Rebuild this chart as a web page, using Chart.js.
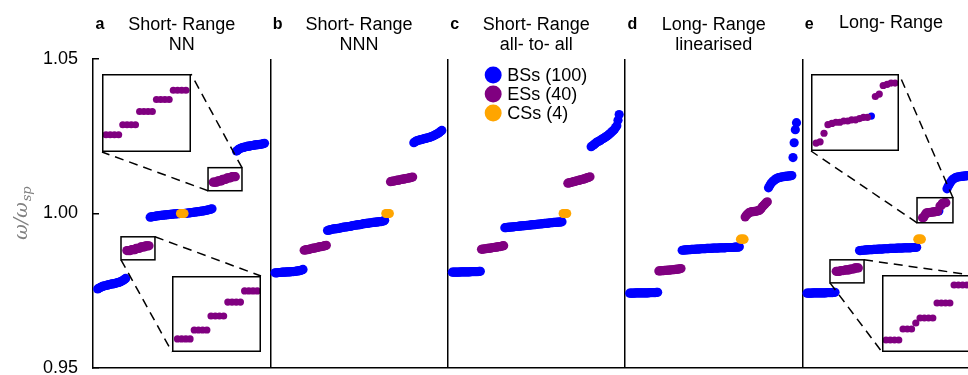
<!DOCTYPE html>
<html>
<head>
<meta charset="utf-8">
<script src="https://cdn.jsdelivr.net/npm/chart.js@4.4.1/dist/chart.umd.min.js"></script>
<style>
html,body{margin:0;padding:0;background:#fff;overflow:hidden;}
#wrap{position:relative;width:968px;height:375px;overflow:hidden;background:#fff;}
#main{position:absolute;left:0;top:0;}
.inset{position:absolute;background:#fff;}
</style>
</head>
<body>
<div id="wrap">
<canvas id="main" width="968" height="375"></canvas>
</div>
<script>
// ---------------- DATA ----------------
const categories = ['BSs (100)', 'ESs (40)', 'CSs (4)'];
const panelLetters = ['a', 'b', 'c', 'd', 'e'];
const panelTitles = [
  ['Short- Range', 'NN'],
  ['Short- Range', 'NNN'],
  ['Short- Range', 'all- to- all'],
  ['Long- Range', 'linearised'],
  ['Long- Range']
];
const yTicks = [0.95, 1.00, 1.05];
const yTitle = ['ω/ω', 'sp'];

// panel a : Short-Range NN
const aBS = [
  0.9756,0.9758,0.9760,0.9762,0.9764,0.9765,0.9766,0.9767,0.9768,0.9769,
  0.9770,0.9771,0.9772,0.9772,0.9773,0.9774,0.9775,0.9776,0.9777,0.9778,
  0.9780,0.9782,0.9784,0.9787,0.9790,
  0.99880,0.99888,0.99896,0.99903,0.99910,0.99916,0.99922,0.99927,0.99932,0.99937,
  0.99941,0.99945,0.99949,0.99953,0.99957,0.99961,0.99965,0.99969,0.99973,0.99977,
  0.99981,0.99985,0.99988,0.99991,0.99994,0.99997,
  1.00003,1.00008,1.00013,1.00018,1.00023,1.00028,1.00033,1.00038,1.00043,1.00048,
  1.00053,1.00058,1.00063,1.00069,1.00075,1.00081,1.00088,1.00095,1.00103,1.00111,
  1.00120,1.00130,1.00141,1.00153,
  1.0202,1.0205,1.0208,1.0210,1.0212,1.0213,1.0214,1.0215,1.0216,1.0217,
  1.0218,1.0218,1.0219,1.0220,1.0220,1.0221,1.0222,1.0222,1.0223,1.0223,
  1.0224,1.0224,1.0225,1.0226,1.0227
];
const aES = [
  0.98800,0.98800,0.98800,0.98800,0.98829,0.98829,0.98829,0.98829,0.98874,0.98874,
  0.98874,0.98874,0.98919,0.98919,0.98919,0.98919,0.98955,0.98955,0.98955,0.98955,
  1.01013,1.01013,1.01013,1.01013,1.01053,1.01053,1.01053,1.01053,1.01106,1.01106,
  1.01106,1.01106,1.01154,1.01154,1.01154,1.01154,1.01191,1.01191,1.01191,1.01191
];
const aCS = [1.0000, 1.0000, 1.0000, 1.0000];

// panel b : Short-Range NNN
const bBS = [
  0.9808,0.9808,0.9808,0.9809,0.9809,0.9809,0.9810,0.9810,0.9810,0.9810,
  0.9811,0.9811,0.9811,0.9811,0.9812,0.9812,0.9812,0.9813,0.9813,0.9814,
  0.9814,0.9815,0.9816,0.9817,0.9819,
  0.9945,0.9946,0.9947,0.9948,0.9949,0.9950,0.9950,0.9951,0.9951,0.9952,
  0.9952,0.9953,0.9954,0.9955,0.9956,0.9956,0.9957,0.9957,0.9958,0.9958,
  0.9959,0.9960,0.9961,0.9962,0.9962,0.9963,0.9963,0.9964,0.9964,0.9965,
  0.9966,0.9967,0.9967,0.9968,0.9968,0.9969,0.9969,0.9970,0.9970,0.9971,
  0.9971,0.9972,0.9972,0.9973,0.9973,0.9974,0.9974,0.9975,0.9976,0.9978,
  1.0229,1.0232,1.0234,1.0236,1.0237,1.0238,1.0239,1.0240,1.0241,1.0242,
  1.0243,1.0244,1.0245,1.0246,1.0247,1.0249,1.0250,1.0252,1.0254,1.0256,
  1.0258,1.0260,1.0263,1.0266,1.0269
];
const bES = [
  0.9881,0.9882,0.9883,0.9883,0.9884,0.9885,0.9886,0.9887,0.9888,0.9888,
  0.9889,0.9890,0.9891,0.9892,0.9893,0.9893,0.9894,0.9895,0.9896,0.9897,
  1.0103,1.0104,1.0105,1.0105,1.0106,1.0107,1.0108,1.0108,1.0109,1.0110,
  1.0111,1.0111,1.0112,1.0113,1.0114,1.0114,1.0115,1.0116,1.0117,1.0118
];
const bCS = [1.0000, 1.0000, 1.0000, 1.0000];

// panel c : Short-Range all-to-all
const cBS = [
  0.9810,0.9810,0.9810,0.9810,0.9810,0.9810,0.9810,0.9811,0.9811,0.9811,
  0.9811,0.9811,0.9811,0.9811,0.9811,0.9811,0.9812,0.9812,0.9812,0.9812,
  0.9812,0.9812,0.9812,0.9813,0.9813,
  0.9954,0.9954,0.9955,0.9955,0.9956,0.9956,0.9956,0.9957,0.9957,0.9958,
  0.9958,0.9958,0.9959,0.9959,0.9960,0.9960,0.9960,0.9961,0.9961,0.9962,
  0.9962,0.9962,0.9963,0.9963,0.9964,0.9964,0.9964,0.9965,0.9965,0.9966,
  0.9966,0.9966,0.9967,0.9967,0.9968,0.9968,0.9968,0.9969,0.9969,0.9970,
  0.9970,0.9970,0.9971,0.9971,0.9971,0.9972,0.9972,0.9972,0.9973,0.9973,
  1.0216,1.0219,1.0222,1.0225,1.0228,1.0231,1.0233,1.0235,1.0237,1.0240,
  1.0242,1.0244,1.0247,1.0249,1.0252,1.0255,1.0258,1.0261,1.0265,1.0269,
  1.0273,1.0278,1.0284,1.0302,1.0320
];
const cES = [
  0.9884,0.9885,0.9885,0.9886,0.9886,0.9887,0.9887,0.9888,0.9888,0.9889,
  0.9890,0.9890,0.9891,0.9891,0.9892,0.9893,0.9893,0.9894,0.9895,0.9896,
  1.0098,1.0099,1.0100,1.0101,1.0102,1.0103,1.0104,1.0105,1.0106,1.0107,
  1.0108,1.0109,1.0110,1.0111,1.0112,1.0113,1.0115,1.0116,1.0117,1.0119
];
const cCS = [1.0000, 1.0000, 1.0000, 1.0000];

// panel d : Long-Range linearised
const dBS = [
  0.9742,0.9742,0.9742,0.9742,0.9742,0.9743,0.9743,0.9743,0.9743,0.9743,
  0.9743,0.9743,0.9743,0.9743,0.9743,0.9743,0.9743,0.9744,0.9744,0.9744,
  0.9744,0.9744,0.9744,0.9745,0.9745,
  0.9881,0.9881,0.9882,0.9882,0.9882,0.9883,0.9883,0.9883,0.9884,0.9884,
  0.9884,0.9884,0.9885,0.9885,0.9885,0.9885,0.9886,0.9886,0.9886,0.9886,
  0.9886,0.9887,0.9887,0.9887,0.9887,0.9887,0.9888,0.9888,0.9888,0.9888,
  0.9888,0.9888,0.9889,0.9889,0.9889,0.9889,0.9889,0.9889,0.9890,0.9890,
  0.9890,0.9890,0.9890,0.9890,0.9890,0.9891,0.9891,0.9891,0.9891,0.9892,
  1.0083,1.0090,1.0096,1.0101,1.0105,1.0108,1.0111,1.0113,1.0115,1.0116,
  1.0117,1.0118,1.0119,1.0119,1.0120,1.0120,1.0121,1.0121,1.0122,1.0122,
  1.0123,1.0181,1.0229,1.0271,1.0294
];
const dES = [
  0.9814,0.9814,0.9815,0.9815,0.9815,0.9816,0.9816,0.9816,0.9817,0.9817,
  0.9817,0.9818,0.9818,0.9818,0.9819,0.9819,0.9820,0.9820,0.9821,0.9822,
  0.9989,0.9994,0.9998,1.0002,1.0004,1.0005,1.0006,1.0006,1.0007,1.0007,
  1.0008,1.0009,1.0010,1.0013,1.0018,1.0023,1.0027,1.0031,1.0035,1.0038
];
const dCS = [0.9917, 0.9917, 0.9917, 0.9917];

// panel e : Long-Range
const eBS = [
  0.9742,0.9742,0.9742,0.9742,0.9742,0.9743,0.9743,0.9743,0.9743,0.9743,
  0.9743,0.9743,0.9743,0.9743,0.9743,0.9743,0.9743,0.9744,0.9744,0.9744,
  0.9744,0.9744,0.9744,0.9745,0.9745,
  0.9880,0.9880,0.9881,0.9881,0.9881,0.9882,0.9882,0.9882,0.9883,0.9883,
  0.9883,0.9883,0.9884,0.9884,0.9884,0.9884,0.9885,0.9885,0.9885,0.9885,
  0.9885,0.9886,0.9886,0.9886,0.9886,0.9886,0.9887,0.9887,0.9887,0.9887,
  0.9887,0.9887,0.9888,0.9888,0.9888,0.9888,0.9888,0.9888,0.9889,0.9889,
  0.9889,0.9889,0.9889,0.9889,0.9889,0.9890,0.9890,0.9890,0.9890,0.9891,
  1.0008,
  1.0080,1.0088,1.0095,1.0101,1.0106,1.0110,1.0113,1.0115,1.0117,1.0118,
  1.0119,1.0119,1.0120,1.0120,1.0121,1.0121,1.0122,1.0122,1.0123,1.0123,
  1.0181,1.0229,1.0271,1.0294
];
const eES = [
  0.98130,0.98130,0.98130,0.98130,0.98152,0.98152,0.98152,0.98164,0.98174,0.98174,
  0.98174,0.98174,0.98204,0.98204,0.98204,0.98204,0.98240,0.98240,0.98240,0.98240,
  0.9986,0.9987,0.9994,1.0001,1.0002,1.0003,1.0003,1.0004,1.0004,1.0005,
  1.0005,1.0006,1.0007,1.0007,1.0024,1.0026,1.0033,1.0034,1.0035,1.0035
];
const eCS = [0.9917, 0.9917, 0.9917, 0.9917];

const panelData = [
  [aBS, aES, aCS],
  [bBS, bES, bCS],
  [cBS, cES, cCS],
  [dBS, dES, dCS],
  [eBS, eES, eCS]
];

// ---------------- LAYOUT / STYLE ----------------
const COLORS = ['#0000ff', '#800080', '#ffa500'];
const PANEL_SPAN = 152;   // x units per panel
const LEAD = 4;           // x units before first state
const X_MAX = 750;
const FONT = "'Liberation Sans', Arial, Helvetica, sans-serif";

const insets = [
  {panel: 0, left: 102, top: 74, w: 89, h: 78, x: [102.05, 123.2], y: [1.00944, 1.01256],
   box: {x: [98.6, 127.7], y: [1.00737, 1.01483]}},
  {panel: 0, left: 172, top: 276, w: 89, h: 76, x: [27.7, 48.9], y: [0.98758, 0.99003],
   box: {x: [24.0, 53.1], y: [0.98501, 0.99246]}},
  {panel: 4, left: 811, top: 74, w: 88, h: 77, x: [101.7, 124.0], y: [0.99795, 1.00424],
   box: {x: [98.3, 129.1], y: [0.99700, 1.00511]}},
  {panel: 4, left: 882, top: 275, w: 89, h: 77, x: [28.06, 48.97], y: [0.98106, 0.98260],
   box: {x: [23.7, 52.9], y: [0.97755, 0.98501]}}
];
const links = [['tr', 'tr'], ['bl', 'bl']];

// rank (sorted order) of every state inside each panel -> local x position
function rankPanel(arrs) {
  const all = [];
  arrs.forEach((arr, k) => arr.forEach(v => all.push({k, v})));
  all.sort((a, b) => a.v - b.v || a.k - b.k);
  const out = arrs.map(() => []);
  all.forEach((d, i) => out[d.k].push({x: LEAD + i, y: d.v}));
  return out;
}
const ranked = panelData.map(rankPanel);

function mainDatasets() {
  return categories.map((label, k) => ({
    label,
    data: ranked.flatMap((p, pi) => p[k].map(pt => ({x: pi * PANEL_SPAN + pt.x, y: pt.y}))),
    backgroundColor: COLORS[k],
    borderWidth: 0,
    pointRadius: 4.6,
    pointHoverRadius: 4.6,
    pointBorderWidth: 0,
    showLine: false,
    order: 3 - k
  }));
}

const decorPlugin = {
  id: 'decor',
  afterDatasetsDraw(chart) {
    const {ctx, scales: {x, y}} = chart;
    ctx.save();
    ctx.strokeStyle = '#000';
    ctx.lineWidth = 1.5;
    insets.forEach(ins => {
      const off = ins.panel * PANEL_SPAN;
      const bx0 = x.getPixelForValue(off + ins.box.x[0]);
      const bx1 = x.getPixelForValue(off + ins.box.x[1]);
      const by0 = y.getPixelForValue(ins.box.y[1]);
      const by1 = y.getPixelForValue(ins.box.y[0]);
      ctx.setLineDash([]);
      ctx.strokeRect(bx0, by0, bx1 - bx0, by1 - by0);
      const bc = {tl: [bx0, by0], tr: [bx1, by0], bl: [bx0, by1], br: [bx1, by1]};
      const ic = {tl: [ins.left, ins.top], tr: [ins.left + ins.w, ins.top],
                  bl: [ins.left, ins.top + ins.h], br: [ins.left + ins.w, ins.top + ins.h]};
      ctx.setLineDash([9, 6]);
      links.forEach(([b, i]) => {
        ctx.beginPath();
        ctx.moveTo(bc[b][0], bc[b][1]);
        ctx.lineTo(ic[i][0], ic[i][1]);
        ctx.stroke();
      });
    });
    ctx.restore();
  },
  afterDraw(chart) {
    const {ctx, scales: {x}, chartArea} = chart;
    ctx.save();
    // panel titles
    panelTitles.forEach((lines, p) => {
      const l = x.getPixelForValue(p * PANEL_SPAN);
      const r = x.getPixelForValue((p + 1) * PANEL_SPAN);
      const cx = (l + r) / 2;
      ctx.fillStyle = '#000';
      ctx.textBaseline = 'alphabetic';
      ctx.textAlign = 'left';
      ctx.font = "bold 16px " + FONT;
      ctx.fillText(panelLetters[p], l + 2.5, 29);
      ctx.textAlign = 'center';
      ctx.font = "18px " + FONT;
      if (lines.length === 1) {
        ctx.fillText(lines[0], cx, 27.5);
      } else {
        ctx.fillText(lines[0], cx, 30);
        ctx.fillText(lines[1], cx, 49.5);
      }
    });
    // legend inside panel c
    const lx = x.getPixelForValue(2 * PANEL_SPAN) + 45.5;
    categories.forEach((c, k) => {
      const cy = chartArea.top + 16 + k * 19;
      ctx.fillStyle = COLORS[k];
      ctx.beginPath();
      ctx.arc(lx, cy, 8.5, 0, Math.PI * 2);
      ctx.fill();
      ctx.fillStyle = '#000';
      ctx.font = "18px " + FONT;
      ctx.textAlign = 'left';
      ctx.textBaseline = 'middle';
      ctx.fillText(c, lx + 14, cy + 1);
    });
    // y axis title  ω/ω_sp
    ctx.translate(22, (chartArea.top + chartArea.bottom) / 2);
    ctx.rotate(-Math.PI / 2);
    ctx.fillStyle = '#808080';
    const f1 = "italic 19px 'DejaVu Serif', serif";
    const f2 = "italic 13px 'DejaVu Serif', serif";
    ctx.font = f1; const w1 = ctx.measureText(yTitle[0]).width;
    ctx.font = f2; const w2 = ctx.measureText(yTitle[1]).width;
    const start = -(w1 + w2) / 2;
    ctx.textAlign = 'left';
    ctx.textBaseline = 'alphabetic';
    ctx.font = f1; ctx.fillText(yTitle[0], start, 5);
    ctx.font = f2; ctx.fillText(yTitle[1], start + w1 + 1, 9);
    ctx.restore();
  }
};

new Chart(document.getElementById('main'), {
  type: 'scatter',
  data: {datasets: mainDatasets()},
  options: {
    responsive: false,
    animation: false,
    devicePixelRatio: 1,
    events: [],
    layout: {autoPadding: false, padding: {top: 59, right: 0, bottom: 7, left: 0}},
    plugins: {legend: {display: false}, tooltip: {enabled: false}},
    scales: {
      x: {
        type: 'linear', min: 0, max: X_MAX,
        afterBuildTicks: s => { s.ticks = [1, 2, 3, 4].map(k => ({value: k * PANEL_SPAN})); },
        ticks: {display: false},
        grid: {drawTicks: false, color: '#000', lineWidth: 1.5, drawOnChartArea: true},
        border: {display: true, color: '#000', width: 1.5},
        afterFit: s => { s.height = 0; s.paddingLeft = 0; s.paddingRight = 0; }
      },
      y: {
        type: 'linear', min: yTicks[0], max: yTicks[yTicks.length - 1],
        afterBuildTicks: s => { s.ticks = yTicks.map(v => ({value: v})); },
        ticks: {
          callback: v => Number(v).toFixed(2),
          color: '#000',
          font: {family: FONT, size: 18},
          padding: 21
        },
        grid: {drawOnChartArea: false, drawTicks: true, tickLength: -6, color: '#000', lineWidth: 1.5},
        border: {display: true, color: '#000', width: 1.5},
        afterFit: s => { s.width = 93; s.paddingTop = 0; s.paddingBottom = 0; }
      }
    }
  },
  plugins: [decorPlugin]
});

// ---------------- INSETS ----------------
const frame = {
  id: 'frame',
  afterDraw(chart) {
    const {ctx, width, height} = chart;
    ctx.save();
    ctx.strokeStyle = '#000';
    ctx.lineWidth = 1.5;
    ctx.strokeRect(0.75, 0.75, width - 1.5, height - 1.5);
    ctx.restore();
  }
};
const wrap = document.getElementById('wrap');
insets.forEach(ins => {
  const cv = document.createElement('canvas');
  cv.className = 'inset';
  cv.width = ins.w; cv.height = ins.h;
  cv.style.left = ins.left + 'px';
  cv.style.top = ins.top + 'px';
  wrap.appendChild(cv);
  new Chart(cv, {
    type: 'scatter',
    data: {
      datasets: categories.map((label, k) => ({
        label,
        data: ranked[ins.panel][k],
        backgroundColor: COLORS[k],
        pointRadius: 3.6,
        pointHoverRadius: 3.6,
        pointBorderWidth: 0,
        borderWidth: 0,
        showLine: false,
        order: 3 - k
      }))
    },
    options: {
      responsive: false, animation: false, devicePixelRatio: 1, events: [],
      layout: {autoPadding: false, padding: 0},
      plugins: {legend: {display: false}, tooltip: {enabled: false}},
      scales: {
        x: {type: 'linear', display: false, min: ins.x[0], max: ins.x[1]},
        y: {type: 'linear', display: false, min: ins.y[0], max: ins.y[1]}
      }
    },
    plugins: [frame]
  });
});
</script>
</body>
</html>
